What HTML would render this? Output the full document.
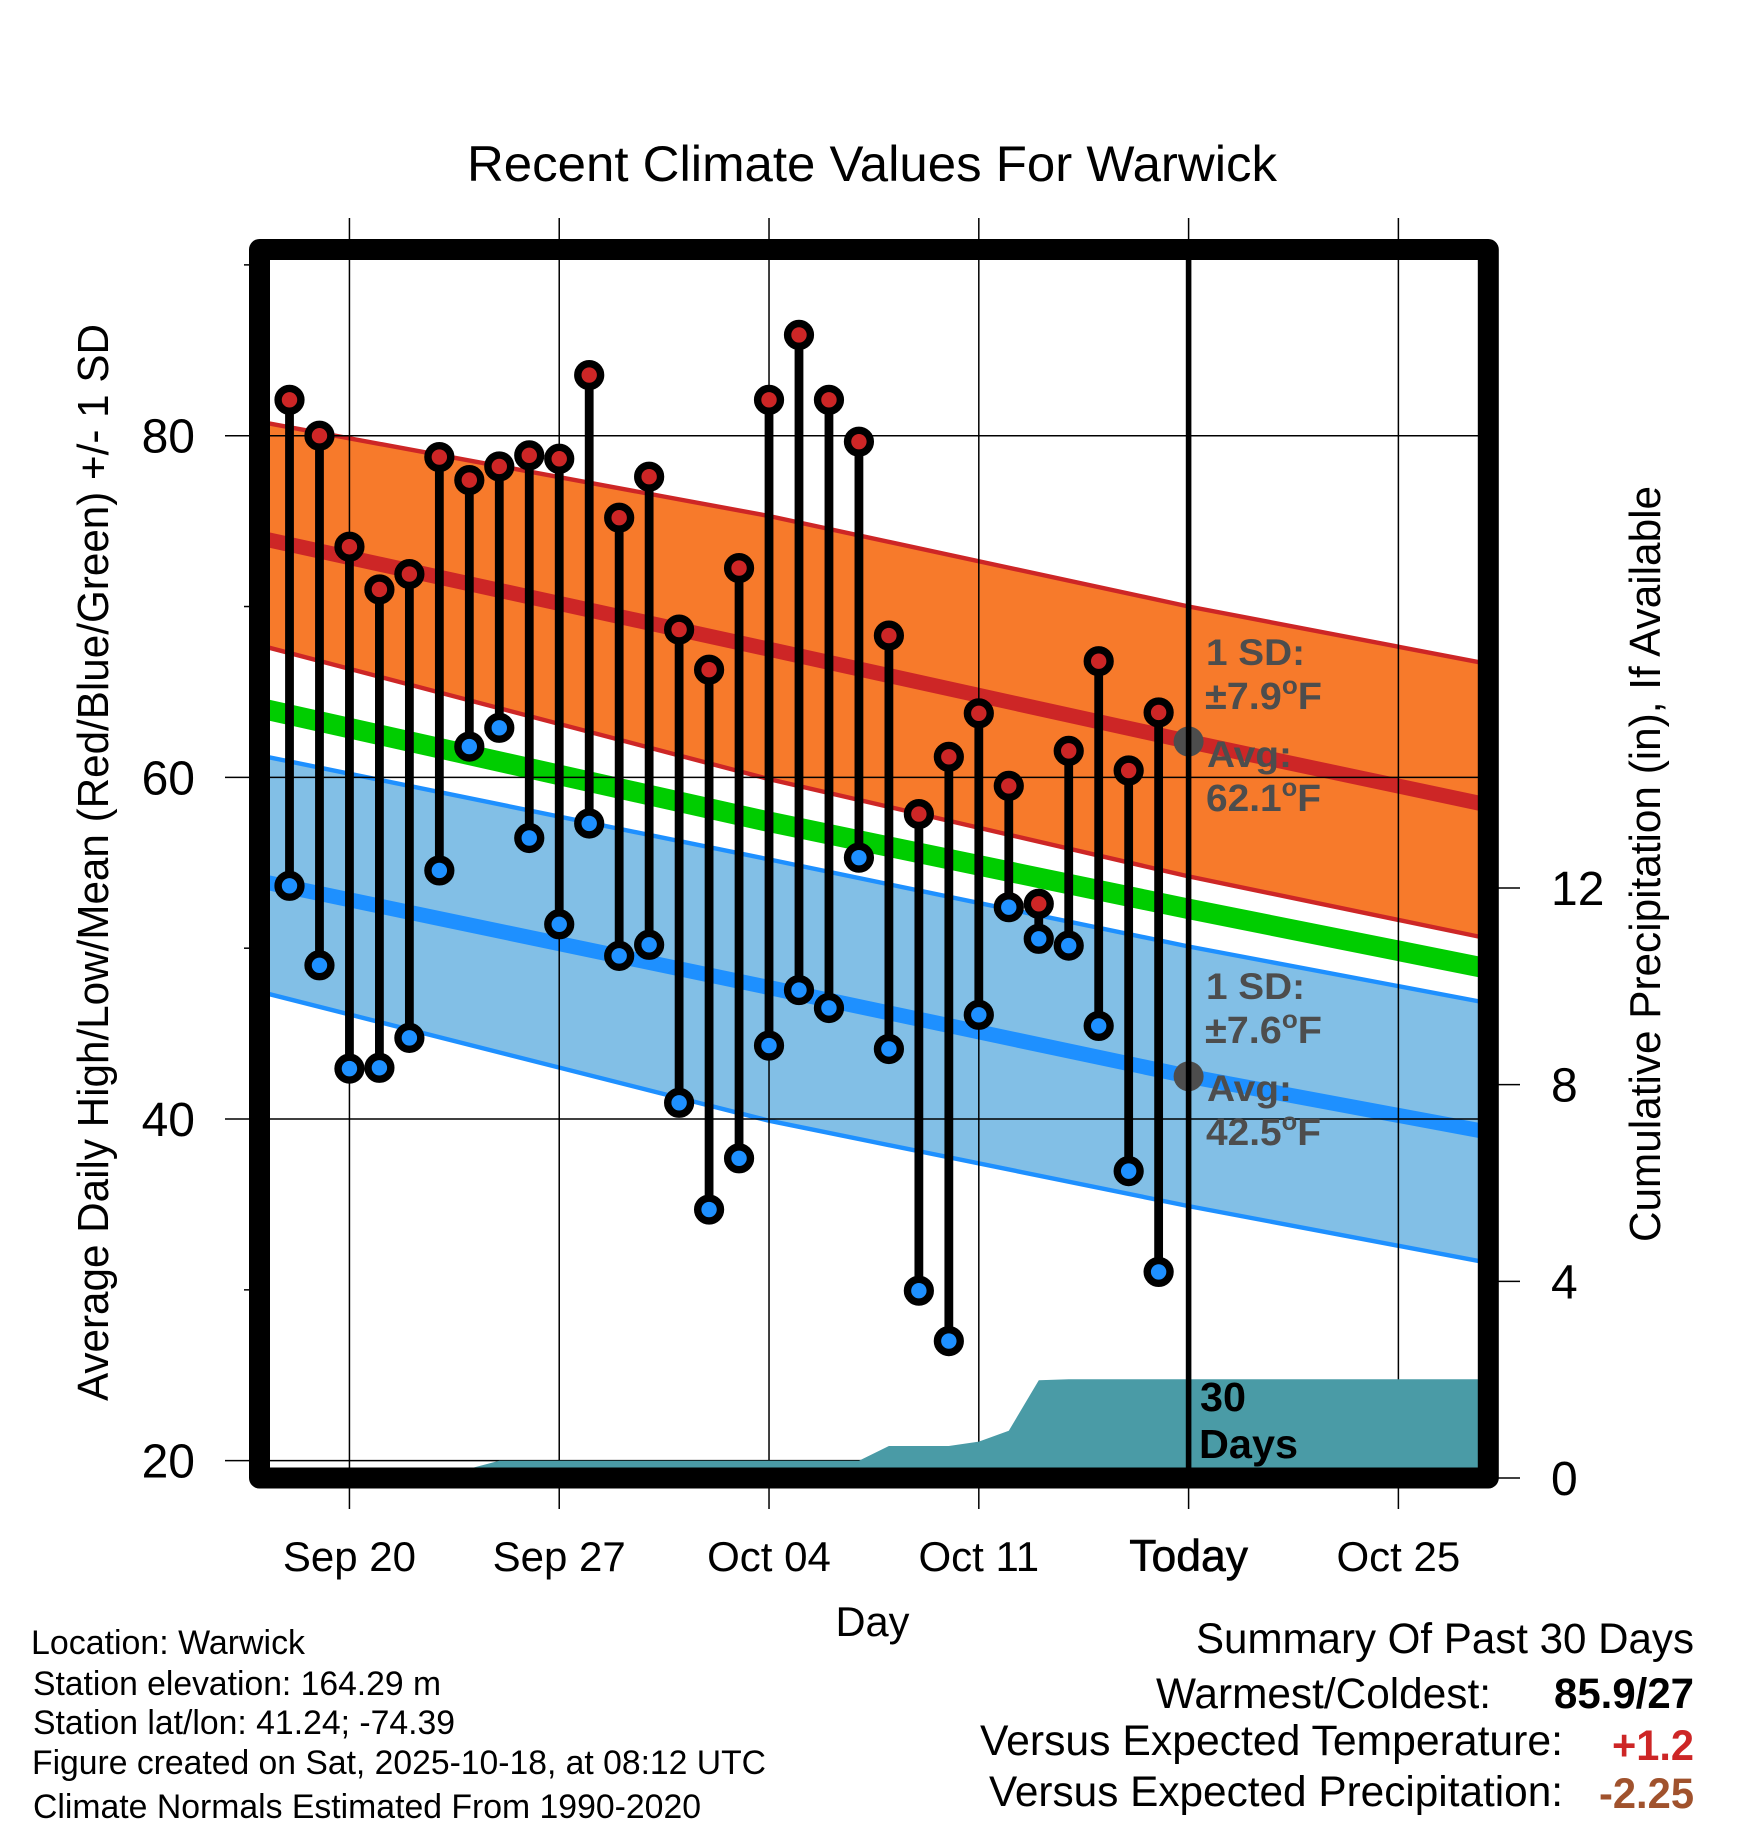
<!DOCTYPE html>
<html lang="en">
<head>
<meta charset="utf-8">
<title>Recent Climate Values For Warwick</title>
<style>
html,body{margin:0;padding:0;background:#fff;}
svg{display:block;font-family:"Liberation Sans",sans-serif;}
.note{font-size:34px;fill:#000;}
.summary{font-size:43px;fill:#000;}
.anno{font-size:37px;font-weight:bold;fill:#4d4d4d;}
.annoval{font-size:38px;font-weight:bold;fill:#4d4d4d;}
.sup{font-size:25px;}
</style>
</head>
<body>
<svg id="chart" xmlns="http://www.w3.org/2000/svg" width="1748" height="1828" viewBox="0 0 1748 1828">
  <rect x="0" y="0" width="1748" height="1828" fill="#ffffff"/>
  <defs>
    <clipPath id="plot-clip"><rect x="270" y="260" width="1208" height="1208"/></clipPath>
  </defs>
  <g id="plot-layer" clip-path="url(#plot-clip)"></g>
  <path d="M259.5 249.5H1488.3V1478H259.5Z" fill="none" stroke="#000" stroke-width="21" stroke-linejoin="round"/>
  <g id="axis-layer"></g>

  <text x="467" y="181" font-size="50" textLength="810" lengthAdjust="spacingAndGlyphs">Recent Climate Values For Warwick</text>
  <text x="835.5" y="1636" font-size="42" textLength="74" lengthAdjust="spacingAndGlyphs">Day</text>
  <text transform="translate(108 1401) rotate(-90)" font-size="44" textLength="1077" lengthAdjust="spacingAndGlyphs">Average Daily High/Low/Mean (Red/Blue/Green) +/- 1 SD</text>
  <text transform="translate(1660 1242) rotate(-90)" font-size="44" textLength="756" lengthAdjust="spacingAndGlyphs">Cumulative Precipitation (in), If Available</text>

  <g>
    <text class="anno" x="1206" y="665" textLength="99" lengthAdjust="spacingAndGlyphs">1 SD:</text>
    <text class="annoval" x="1205" y="709" textLength="117" lengthAdjust="spacingAndGlyphs">±7.9<tspan class="sup" dy="-15">o</tspan><tspan dy="15">F</tspan></text>
    <text class="anno" x="1207" y="767" textLength="85" lengthAdjust="spacingAndGlyphs">Avg:</text>
    <text class="annoval" x="1206" y="811" textLength="115" lengthAdjust="spacingAndGlyphs">62.1<tspan class="sup" dy="-15">o</tspan><tspan dy="15">F</tspan></text>
  </g>
  <g>
    <text class="anno" x="1206" y="999" textLength="99" lengthAdjust="spacingAndGlyphs">1 SD:</text>
    <text class="annoval" x="1205" y="1043" textLength="117" lengthAdjust="spacingAndGlyphs">±7.6<tspan class="sup" dy="-15">o</tspan><tspan dy="15">F</tspan></text>
    <text class="anno" x="1207" y="1101" textLength="85" lengthAdjust="spacingAndGlyphs">Avg:</text>
    <text class="annoval" x="1206" y="1145" textLength="115" lengthAdjust="spacingAndGlyphs">42.5<tspan class="sup" dy="-15">o</tspan><tspan dy="15">F</tspan></text>
  </g>
  <g font-size="41" font-weight="bold" fill="#000">
    <text x="1200" y="1411" textLength="46" lengthAdjust="spacingAndGlyphs">30</text>
    <text x="1199" y="1458" textLength="99" lengthAdjust="spacingAndGlyphs">Days</text>
  </g>

  <g>
    <text class="note" x="31" y="1654" textLength="274" lengthAdjust="spacingAndGlyphs">Location: Warwick</text>
    <text class="note" x="33" y="1695" textLength="408" lengthAdjust="spacingAndGlyphs">Station elevation: 164.29 m</text>
    <text class="note" x="33" y="1734" textLength="422" lengthAdjust="spacingAndGlyphs">Station lat/lon: 41.24; -74.39</text>
    <text class="note" x="32" y="1774" textLength="734" lengthAdjust="spacingAndGlyphs">Figure created on Sat, 2025-10-18, at 08:12 UTC</text>
    <text class="note" x="33" y="1818" textLength="668" lengthAdjust="spacingAndGlyphs">Climate Normals Estimated From 1990-2020</text>
  </g>
  <g>
    <text class="summary" x="1196" y="1653" textLength="498" lengthAdjust="spacingAndGlyphs">Summary Of Past 30 Days</text>
    <text class="summary" x="1156" y="1708" textLength="335" lengthAdjust="spacingAndGlyphs">Warmest/Coldest:</text>
    <text class="summary" x="1554" y="1708" textLength="140" lengthAdjust="spacingAndGlyphs" font-weight="bold">85.9/27</text>
    <text class="summary" x="980" y="1755" textLength="583" lengthAdjust="spacingAndGlyphs">Versus Expected Temperature:</text>
    <text class="summary" x="1612" y="1760" textLength="82" lengthAdjust="spacingAndGlyphs" font-weight="bold" style="fill:#cd2626">+1.2</text>
    <text class="summary" x="989" y="1806" textLength="574" lengthAdjust="spacingAndGlyphs">Versus Expected Precipitation:</text>
    <text class="summary" x="1599" y="1808" textLength="95" lengthAdjust="spacingAndGlyphs" font-weight="bold" style="fill:#a0522d">-2.25</text>
  </g>
</svg>
<script>
// Observations, one per day beginning Sep 18
var dayLabels = ["Sep 18","Sep 19","Sep 20","Sep 21","Sep 22","Sep 23","Sep 24","Sep 25","Sep 26","Sep 27","Sep 28","Sep 29","Sep 30","Oct 01","Oct 02","Oct 03","Oct 04","Oct 05","Oct 06","Oct 07","Oct 08","Oct 09","Oct 10","Oct 11","Oct 12","Oct 13","Oct 14","Oct 15","Oct 16","Oct 17"];
var highs = [82.1,80.0,73.5,71.0,71.9,78.75,77.4,78.2,78.85,78.65,83.55,75.2,77.6,68.65,66.3,72.25,82.1,85.9,82.1,79.65,68.3,57.85,61.2,63.75,59.5,52.6,61.55,66.8,60.4,63.8];
var lows = [53.65,49.0,42.95,43.0,44.75,54.55,61.8,62.9,56.45,51.4,57.3,49.55,50.2,40.95,34.7,37.7,44.3,47.55,46.5,55.3,44.1,29.95,27.0,46.1,52.4,50.55,50.15,45.45,36.95,31.05];

// Climate normals read at Sep 16, Oct 04, Today and Oct 29
var climateDays = [-2,16,30,41];
var highUpper = [81.15,75.3,70.0,66.3];
var highMean = [74.4,67.5,62.1,58.0];
var highLower = [68.2,59.9,54.2,50.2];
var dailyMean = [64.45,57.4,52.3,48.45];
var lowUpper = [61.65,55.2,50.1,46.45];
var lowMean = [54.3,47.7,42.5,38.9];
var lowLower = [47.9,39.9,34.9,31.25];

// Cumulative precipitation in inches, one per day beginning Sep 18
var precip = [0,0,0,0,0,0,0.19,0.35,0.35,0.35,0.35,0.35,0.35,0.35,0.35,0.35,0.35,0.35,0.35,0.35,0.65,0.65,0.65,0.74,0.96,1.99,2.01,2.01,2.01,2.01,2.01,2.01,2.01,2.01,2.01,2.01,2.01,2.01,2.01,2.01,2.01];

var todayIndex = 30;
var todayHigh = 62.1;
var todayLow = 42.5;

// Axis ticks
var xTickDays = [2,9,16,23,30,37];
var xTickLabels = ["Sep 20","Sep 27","Oct 04","Oct 11","Today","Oct 25"];
var yMajorTicks = [20,40,60,80];
var yMinorTicks = [30,50,70,90];
var precipTicks = [0,4,8,12];

var SVGNS = 'http://www.w3.org/2000/svg';
var plotLayer = document.getElementById('plot-layer');
var axisLayer = document.getElementById('axis-layer');

function xScale(d){ return 289.5 + d * 29.97; }
function yScale(v){ return 435.7 + (80 - v) * 17.083; }
function precipScale(v){ return 1478 - v * 49.17; }

function make(tag, attrs, parent){
  var el = document.createElementNS(SVGNS, tag);
  for (var k in attrs){ el.setAttribute(k, attrs[k]); }
  parent.appendChild(el);
  return el;
}
function curvePoints(values){
  return climateDays.map(function(d, i){ return xScale(d).toFixed(1) + ',' + yScale(values[i]).toFixed(1); });
}
function drawBand(upper, lower, fill, stroke, name){
  var pts = curvePoints(upper).concat(curvePoints(lower).reverse());
  var band = make('polygon', {points: pts.join(' '), fill: fill}, plotLayer);
  
  
  var top = make('polyline', {points: curvePoints(upper).join(' '), fill: 'none', stroke: stroke, 'stroke-width': 4.4}, plotLayer);
  
  
  var bottom = make('polyline', {points: curvePoints(lower).join(' '), fill: 'none', stroke: stroke, 'stroke-width': 4.4}, plotLayer);
  
  
}
function drawCurve(values, stroke, width, name){
  var line = make('polyline', {points: curvePoints(values).join(' '), fill: 'none', stroke: stroke, 'stroke-width': width}, plotLayer);
  
  
}

drawBand(highUpper, highLower, '#f77a2b', '#cd2626', 'high-sd-band');
drawBand(lowUpper, lowLower, '#82bfe6', '#1e90ff', 'low-sd-band');
drawCurve(highMean, '#cd2626', 15, 'normal-high-line');
drawCurve(dailyMean, '#00cd00', 20.5, 'normal-mean-line');
drawCurve(lowMean, '#1e90ff', 15, 'normal-low-line');

// Grid lines inside the plot
yMajorTicks.forEach(function(v){
  var grid = make('line', {x1: 225, x2: 1478, y1: yScale(v), y2: yScale(v), stroke: '#000', 'stroke-width': 1.5}, plotLayer);
  
  
});
xTickDays.forEach(function(d, i){
  var grid = make('line', {x1: xScale(d), x2: xScale(d), y1: 260, y2: 1468, stroke: '#000', 'stroke-width': 1.5}, plotLayer);
  
  
});

// Cumulative precipitation area
var areaPts = [xScale(0).toFixed(1) + ',1478'];
precip.forEach(function(v, i){ areaPts.push(xScale(i).toFixed(1) + ',' + precipScale(v).toFixed(1)); });
areaPts.push(xScale(precip.length - 1).toFixed(1) + ',1478');
var area = make('polygon', {points: areaPts.join(' '), fill: '#4a9ba6'}, plotLayer);



// Daily high/low stems and markers
highs.forEach(function(h, i){
  var stem = make('line', {x1: xScale(i), x2: xScale(i), y1: yScale(h), y2: yScale(lows[i]), stroke: '#000', 'stroke-width': 8.8}, plotLayer);
  
  
});
highs.forEach(function(h, i){
  var hi = make('circle', {cx: xScale(i), cy: yScale(h), r: 11.4, fill: '#cd2626', stroke: '#000', 'stroke-width': 7.4}, plotLayer);
  
  
  var lo = make('circle', {cx: xScale(i), cy: yScale(lows[i]), r: 11.4, fill: '#1e90ff', stroke: '#000', 'stroke-width': 7.4}, plotLayer);
  
  
});

// Today markers and line
var todayHi = make('circle', {cx: xScale(todayIndex), cy: yScale(todayHigh), r: 15, fill: '#4d4d4d'}, plotLayer);


var todayLo = make('circle', {cx: xScale(todayIndex), cy: yScale(todayLow), r: 15, fill: '#4d4d4d'}, plotLayer);


var todayLine = make('line', {x1: xScale(todayIndex), x2: xScale(todayIndex), y1: 255, y2: 1470, stroke: '#000', 'stroke-width': 5.6}, plotLayer);



// Outer ticks and labels
xTickDays.forEach(function(d, i){
  var top = make('line', {x1: xScale(d), x2: xScale(d), y1: 218, y2: 239, stroke: '#000', 'stroke-width': 1.5}, axisLayer);
  
  
  var bottom = make('line', {x1: xScale(d), x2: xScale(d), y1: 1488, y2: 1509, stroke: '#000', 'stroke-width': 1.5}, axisLayer);
  
  
  var label = make('text', {x: xScale(d), y: 1571, 'font-size': 42, 'text-anchor': 'middle', fill: '#000'}, axisLayer);
  
  
  label.textContent = xTickLabels[i];
  if (d === todayIndex) { label.setAttribute('stroke', '#000'); label.setAttribute('stroke-width', '0.6'); label.setAttribute('font-size', '44.5'); }
});
yMajorTicks.forEach(function(v){
  var tick = make('line', {x1: 225, x2: 249, y1: yScale(v), y2: yScale(v), stroke: '#000', 'stroke-width': 1.5}, axisLayer);
  
  
  var label = make('text', {x: 195, y: yScale(v) + 17, 'font-size': 48, 'text-anchor': 'end', fill: '#000'}, axisLayer);
  
  
  label.textContent = v;
});
yMinorTicks.forEach(function(v){
  var tick = make('line', {x1: 244, x2: 249, y1: yScale(v), y2: yScale(v), stroke: '#000', 'stroke-width': 1.5}, axisLayer);
  
  
});
precipTicks.forEach(function(v){
  var tick = make('line', {x1: 1498, x2: 1520, y1: precipScale(v), y2: precipScale(v), stroke: '#000', 'stroke-width': 1.5}, axisLayer);
  
  
  var label = make('text', {x: 1551, y: precipScale(v) + 17, 'font-size': 48, fill: '#000'}, axisLayer);
  
  
  label.textContent = v;
});
</script>
</body>
</html>
